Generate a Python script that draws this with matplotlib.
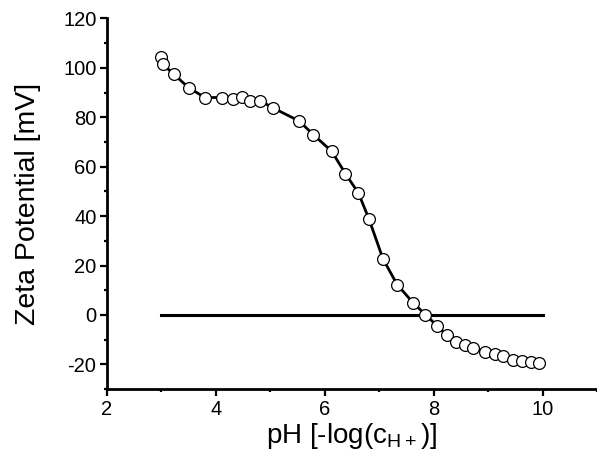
import matplotlib.pyplot as plt
from matplotlib.ticker import MultipleLocator

plt.rcParams["font.family"] = ["Liberation Sans", "DejaVu Sans"]
plt.rcParams["axes.unicode_minus"] = False
plt.rcParams["mathtext.fontset"] = "custom"
plt.rcParams["mathtext.rm"] = "Liberation Sans"

PH = [3.00, 3.03, 3.23, 3.50, 3.80, 4.11, 4.31, 4.48, 4.62, 4.82, 5.05,
      5.53, 5.79, 6.13, 6.38, 6.62, 6.81, 7.07, 7.33, 7.62, 7.85, 8.07,
      8.24, 8.42, 8.57, 8.72, 8.95, 9.12, 9.28, 9.46, 9.63, 9.79, 9.94]
ZETA = [104.4, 101.4, 97.4, 92.0, 88.0, 88.0, 87.2, 88.1, 86.4, 86.7, 83.8,
        78.5, 73.0, 66.2, 57.2, 49.3, 39.0, 22.7, 12.3, 5.0, 0.1, -4.5,
        -8.2, -10.8, -12.1, -13.5, -14.8, -15.9, -16.8, -18.2, -18.5, -18.9,
        -19.6]

ZERO_X = [3, 10]
ZERO_Y = [0, 0]


def main():
    fig = plt.figure(figsize=(5.97, 4.61), dpi=100)
    ax = fig.add_axes([0.179, 0.156, 0.821, 0.804])

    ax.plot(ZERO_X, ZERO_Y, color="black", linewidth=2.2)
    ax.plot(
        PH,
        ZETA,
        color="black",
        linewidth=2.0,
        marker="o",
        markersize=8.5,
        markerfacecolor="white",
        markeredgecolor="black",
        markeredgewidth=0.9,
    )

    ax.set_xlim(2, 11)
    ax.set_ylim(-30, 120)
    ax.xaxis.set_major_locator(MultipleLocator(2))
    ax.xaxis.set_minor_locator(MultipleLocator(1))
    ax.yaxis.set_major_locator(MultipleLocator(20))
    ax.yaxis.set_minor_locator(MultipleLocator(10))

    for side in ["top", "right"]:
        ax.spines[side].set_visible(False)
    for side in ["left", "bottom"]:
        ax.spines[side].set_linewidth(2)

    ax.tick_params(which="major", direction="out", length=5, width=1.6,
                   labelsize=14.5, pad=2.5)
    ax.tick_params(which="minor", direction="out", length=2.5, width=1.6)

    ax.set_xlabel(r"pH [-log(c$_{\mathregular{H+}}$)]", fontsize=20,
                  labelpad=2)
    ax.set_ylabel("Zeta Potential [mV]", fontsize=20.5, labelpad=16)

    fig.savefig("out.png", dpi=100)
    plt.close(fig)


if __name__ == "__main__":
    main()
